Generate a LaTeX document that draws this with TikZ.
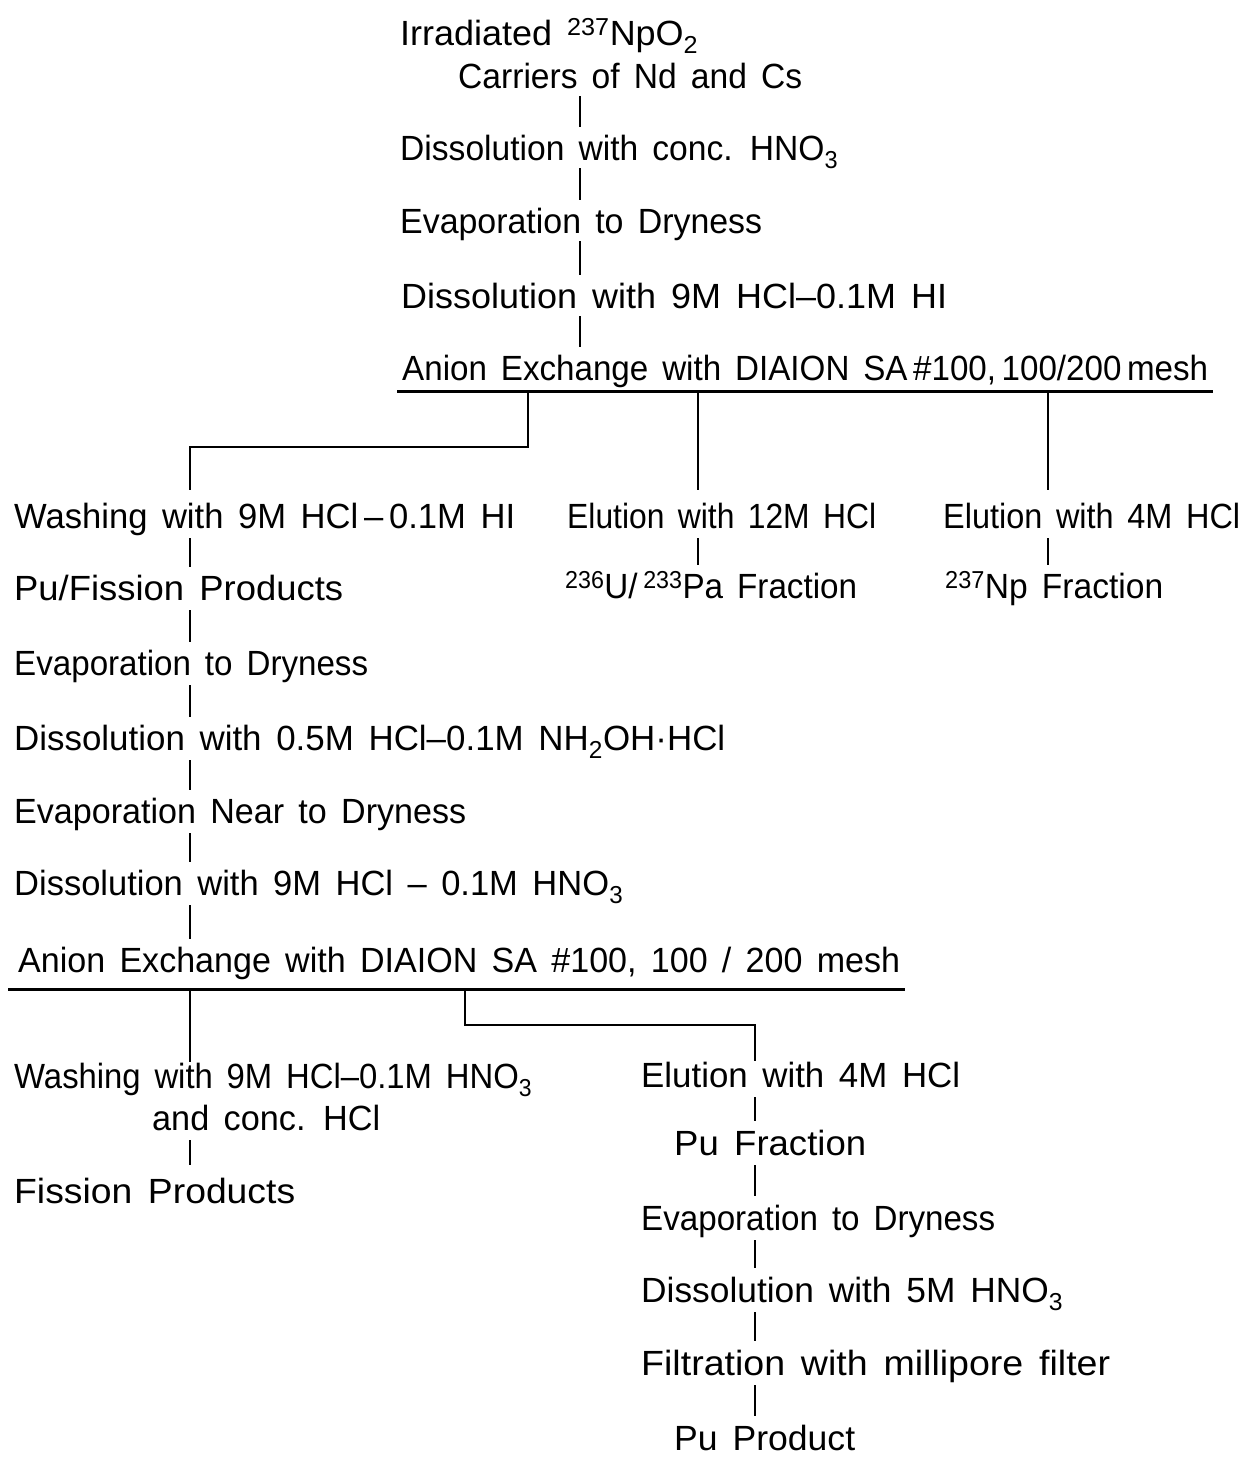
\documentclass[tikz,border=0pt]{standalone}
\usepackage{fontspec}
\usepackage{graphicx}
\setmainfont{Liberation Sans}
\usetikzlibrary{calc}
\newcommand\fsz{\fontsize{35}{42}\selectfont\spaceskip=0.42em plus 0.1em minus 0.1em\relax}
% set text horizontally to a given width (in pt = px)
\newcommand\fitw[2]{\resizebox{#1pt}{\height}{#2}}
\tikzset{
  lbl/.style={anchor=base west, inner sep=0pt, font=\fsz},
  conn/.style={line width=2.5pt},
  rulel/.style={line width=3pt}
}
\begin{document}
\begin{tikzpicture}[x=1pt,y=1pt]
\useasboundingbox (0,0) rectangle (1247,-1460);
% trunk x positions
\coordinate (xA) at (580,0);
\coordinate (xL) at (190,0);
\coordinate (xM) at (698,0);
\coordinate (xR) at (1048,0);
\coordinate (xB) at (755,0);
% texts
\node[lbl] (t1) at (400,-45) {\fitw{298}{Irradiated \textsuperscript{237}NpO\textsubscript{2}}};
\node[lbl] (t2) at (458,-88) {\fitw{344}{Carriers of Nd and Cs}};
\node[lbl] (t3) at (400,-160) {\fitw{438}{Dissolution with conc. HNO\textsubscript{3}}};
\node[lbl] (t4) at (400,-233) {\fitw{362}{Evaporation to Dryness}};
\node[lbl] (t5) at (401,-308) {\fitw{546}{Dissolution with 9M HCl–0.1M HI}};
\node[lbl] (t6) at (402,-380) {\fitw{806}{Anion Exchange with DIAION SA\,\#100,\,100/200\,mesh}};
\node[lbl] (t7) at (14,-528) {\fitw{501}{Washing with 9M HCl\,–\,0.1M HI}};
\node[lbl] (t8) at (567,-528) {\fitw{309}{Elution with 12M HCl}};
\node[lbl] (t9) at (943,-528) {\fitw{297}{Elution with 4M HCl}};
\node[lbl] (t10) at (565,-598) {\fitw{292}{\textsuperscript{236}U/\,\textsuperscript{233}Pa Fraction}};
\node[lbl] (t11) at (945,-598) {\fitw{218}{\textsuperscript{237}Np Fraction}};
\node[lbl] (t12) at (14,-600) {\fitw{329}{Pu/Fission Products}};
\node[lbl] (t13) at (14,-675) {\fitw{354}{Evaporation to Dryness}};
\node[lbl] (t14) at (14,-750) {\fitw{711}{Dissolution with 0.5M HCl–0.1M NH\textsubscript{2}OH·HCl}};
\node[lbl] (t15) at (14,-823) {\fitw{452}{Evaporation Near to Dryness}};
\node[lbl] (t16) at (14,-895) {\fitw{609}{Dissolution with 9M HCl – 0.1M HNO\textsubscript{3}}};
\node[lbl] (t17) at (18,-972) {\fitw{882}{Anion Exchange with DIAION SA \#100, 100 / 200 mesh}};
\node[lbl] (t18) at (14,-1088) {\fitw{518}{Washing with 9M HCl–0.1M HNO\textsubscript{3}}};
\node[lbl] (t19) at (152,-1130) {\fitw{228}{and conc. HCl}};
\node[lbl] (t20) at (14,-1203) {\fitw{281}{Fission Products}};
\node[lbl] (t21) at (641,-1087) {\fitw{319}{Elution with 4M HCl}};
\node[lbl] (t22) at (674,-1155) {\fitw{192}{Pu Fraction}};
\node[lbl] (t23) at (641,-1230) {\fitw{354}{Evaporation to Dryness}};
\node[lbl] (t24) at (641,-1302) {\fitw{422}{Dissolution with 5M HNO\textsubscript{3}}};
\node[lbl] (t25) at (641,-1375) {\fitw{469}{Filtration with millipore filter}};
\node[lbl] (t26) at (674,-1450) {\fitw{181}{Pu Product}};
% top trunk
\foreach \a/\b in {t2/t3,t3/t4,t4/t5,t5/t6}
  \draw[conn] ($(\a.base -| xA)+(0,-8)$) -- ($(\b.base -| xA)+(0,33)$);
% rule 1 and branches
\coordinate (r1a) at (397,-391);
\coordinate (r1b) at (1213,-391);
\draw[rulel] (r1a) -- (r1b);
\coordinate (k1) at (528,-391);
\coordinate (k2) at (528,-447);
\draw[conn] (k1) -- (k2) -| ($(t7.base -| xL)+(0,38)$);
\draw[conn] (r1a -| xM) -- ($(t8.base -| xM)+(0,38)$);
\draw[conn] (r1a -| xR) -- ($(t9.base -| xR)+(0,38)$);
\draw[conn] ($(t8.base -| xM)+(0,-10)$) -- ($(t10.base -| xM)+(0,33)$);
\draw[conn] ($(t9.base -| xR)+(0,-10)$) -- ($(t11.base -| xR)+(0,33)$);
% left trunk
\foreach \a/\b in {t7/t12,t12/t13,t13/t14,t14/t15,t15/t16,t16/t17}
  \draw[conn] ($(\a.base -| xL)+(0,-10)$) -- ($(\b.base -| xL)+(0,33)$);
% rule 2 and branches
\coordinate (r2a) at (8,-989);
\coordinate (r2b) at (905,-989);
\draw[rulel] (r2a) -- (r2b);
\draw[conn] (r2a -| xL) -- ($(t18.base -| xL)+(0,26)$);
\coordinate (k3) at (465,-989);
\coordinate (k4) at (465,-1025);
\draw[conn] (k3) -- (k4) -| ($(t21.base -| xB)+(0,26)$);
\draw[conn] ($(t19.base -| xL)+(0,-10)$) -- ($(t20.base -| xL)+(0,38)$);
% bottom-right trunk
\foreach \a/\b in {t21/t22,t22/t23,t23/t24,t24/t25,t25/t26}
  \draw[conn] ($(\a.base -| xB)+(0,-10)$) -- ($(\b.base -| xB)+(0,34)$);
\end{tikzpicture}
\end{document}
